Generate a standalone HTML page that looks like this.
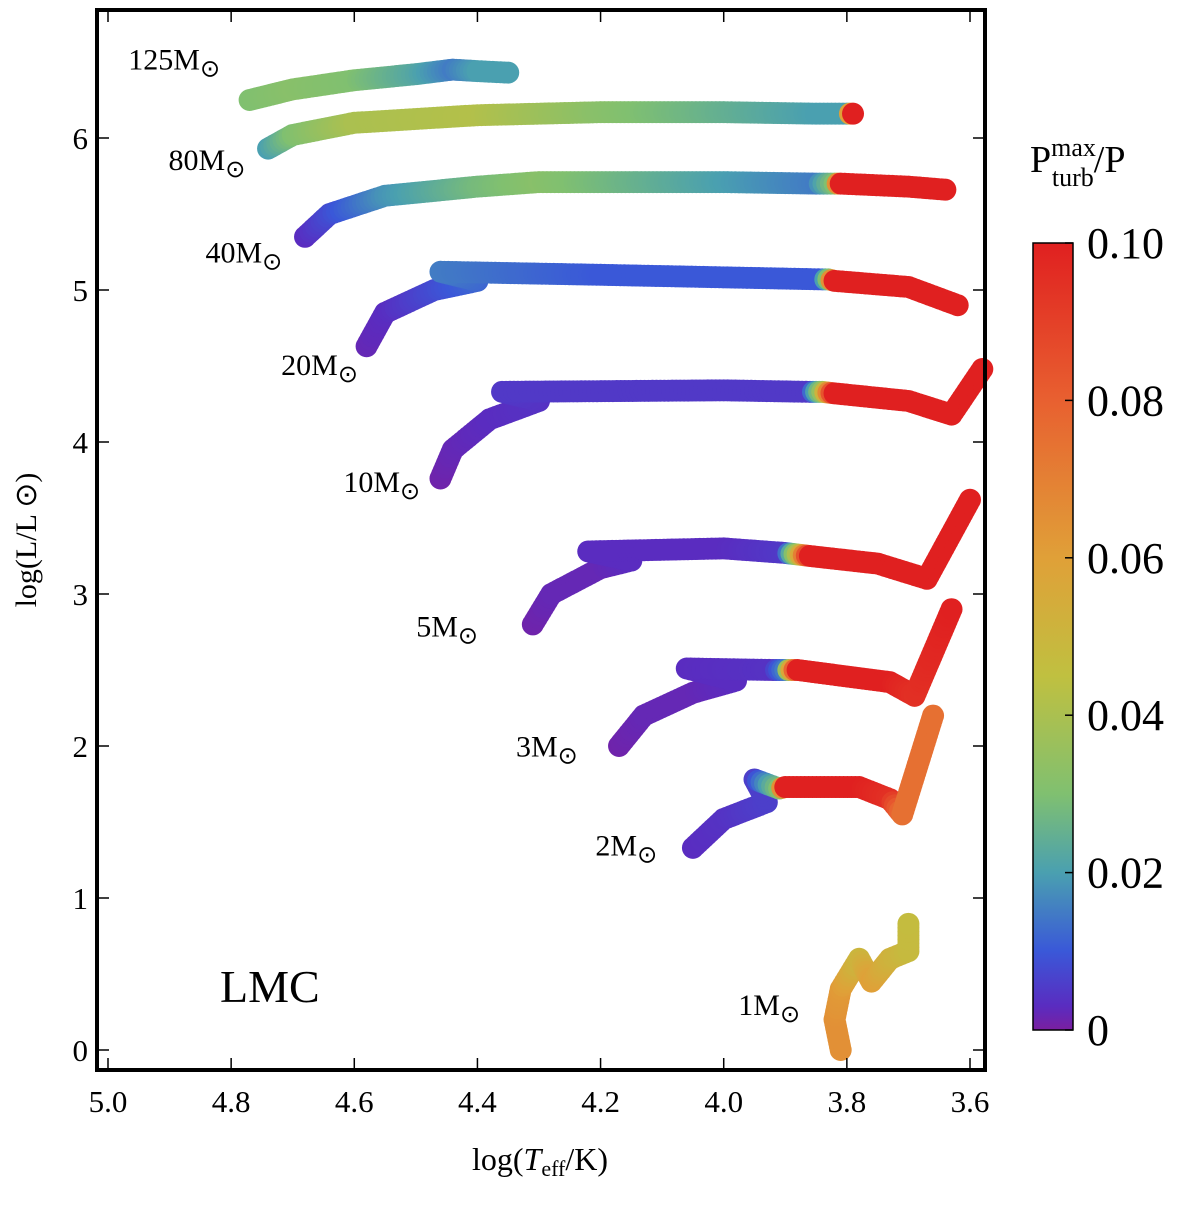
<!DOCTYPE html>
<html><head><meta charset="utf-8"><style>
html,body{margin:0;padding:0;background:#fff;}
svg text{font-family:"Liberation Serif",serif;}
</style></head><body>
<svg id="chart" width="1200" height="1215" xmlns="http://www.w3.org/2000/svg">
<defs>
<linearGradient id="cbgrad" x1="0" y1="1" x2="0" y2="0">
<stop offset="0" stop-color="#7a1fa0"/><stop offset="0.03" stop-color="#5a2cc0"/><stop offset="0.1" stop-color="#3a58d8"/>
<stop offset="0.2" stop-color="#4aa0b0"/><stop offset="0.3" stop-color="#80c070"/><stop offset="0.45" stop-color="#c0c040"/>
<stop offset="0.6" stop-color="#e0a038"/><stop offset="0.8" stop-color="#e86030"/><stop offset="1" stop-color="#e02020"/>
</linearGradient>
</defs>
<g id="marks"></g>
<rect x="97" y="10" width="888" height="1060" fill="none" stroke="#000" stroke-width="4"/>
<g id="axes"></g>
<text transform="translate(36,540) rotate(-90)" text-anchor="middle" font-size="30">log(L/L ⊙)</text>
<text x="540" y="1170" text-anchor="middle" font-size="32">log(<tspan font-style="italic">T</tspan><tspan font-size="22" dy="6">eff</tspan><tspan dy="-6">/K)</tspan></text>
<text x="220" y="1002" font-size="46">LMC</text>
<rect x="1033" y="243" width="40" height="787" fill="url(#cbgrad)" stroke="#000" stroke-width="1.5"/>
<g id="cbticks"></g>
<text x="1030" y="172" font-size="38">P<tspan font-size="26" dy="-16">max</tspan><tspan font-size="26" dx="-44" dy="30">turb</tspan><tspan dy="-14">/P</tspan></text>
</svg>
<script>
const xTicks=[5.0,4.8,4.6,4.4,4.2,4.0,3.8,3.6];
const yTicks=[0,1,2,3,4,5,6];
const cbTicks=[0,0.02,0.04,0.06,0.08,0.10];
const cbLabels=["0","0.02","0.04","0.06","0.08","0.10"];
const massLabels=["125M","80M","40M","20M","10M","5M","3M","2M","1M"];
const labelT=[4.818,4.777,4.717,4.594,4.493,4.399,4.237,4.108,3.876];
const labelL=[6.45,5.79,5.18,4.44,3.67,2.72,1.93,1.28,0.23];
const tT=[
[4.77,4.70,4.60,4.50,4.44,4.40,4.35],
[4.74,4.70,4.60,4.40,4.20,4.00,3.85,3.80,3.79],
[4.68,4.64,4.55,4.40,4.30,4.00,3.85,3.82,3.81,3.70,3.64],
[4.58,4.55,4.47,4.40,4.46,4.20,3.84,3.83,3.82,3.70,3.62],
[4.46,4.44,4.38,4.30,4.36,4.00,3.86,3.84,3.82,3.70,3.63,3.58],
[4.31,4.28,4.20,4.15,4.22,4.00,3.90,3.88,3.86,3.75,3.67,3.60],
[4.17,4.13,4.05,3.98,4.06,3.92,3.90,3.88,3.73,3.69,3.63],
[4.05,4.00,3.93,3.95,3.91,3.90,3.78,3.73,3.71,3.66],
[3.81,3.82,3.81,3.78,3.76,3.73,3.70,3.70]];
const tL=[
[6.25,6.32,6.38,6.42,6.45,6.44,6.43],
[5.93,6.02,6.10,6.15,6.17,6.17,6.16,6.16,6.16],
[5.35,5.50,5.62,5.68,5.71,5.71,5.70,5.70,5.70,5.68,5.66],
[4.63,4.85,5.00,5.06,5.12,5.10,5.07,5.07,5.06,5.02,4.90],
[3.76,3.95,4.15,4.27,4.33,4.34,4.33,4.33,4.32,4.27,4.18,4.48],
[2.80,3.00,3.17,3.22,3.28,3.30,3.27,3.26,3.25,3.20,3.10,3.62],
[2.00,2.20,2.35,2.43,2.51,2.50,2.50,2.50,2.42,2.33,2.90],
[1.33,1.52,1.63,1.78,1.72,1.73,1.73,1.65,1.55,2.20],
[0.00,0.20,0.40,0.60,0.45,0.60,0.65,0.83]];
const tP=[
[0.030,0.032,0.030,0.022,0.015,0.020,0.020],
[0.020,0.030,0.040,0.042,0.032,0.025,0.020,0.020,0.100],
[0.003,0.008,0.018,0.028,0.032,0.020,0.015,0.030,0.100,0.100,0.100],
[0.002,0.003,0.008,0.012,0.015,0.010,0.010,0.030,0.100,0.100,0.100],
[0.001,0.002,0.003,0.004,0.005,0.005,0.005,0.035,0.100,0.100,0.100,0.100],
[0.001,0.002,0.002,0.003,0.003,0.003,0.005,0.040,0.100,0.100,0.100,0.100],
[0.001,0.002,0.002,0.003,0.003,0.004,0.015,0.100,0.100,0.095,0.100],
[0.003,0.004,0.006,0.006,0.030,0.100,0.100,0.095,0.075,0.075],
[0.065,0.065,0.062,0.050,0.060,0.052,0.048,0.047]];

const NS="http://www.w3.org/2000/svg";
const X=t=>108+(5.0-t)*(970-108)/1.4;
const Y=l=>1050-l*152;
const CBY=v=>1030-v/0.1*787;
const stops=[[0,[122,31,160]],[0.003,[90,44,192]],[0.01,[58,88,216]],[0.02,[74,160,176]],[0.03,[128,192,112]],[0.045,[192,192,64]],[0.06,[224,160,56]],[0.08,[232,96,48]],[0.1,[224,32,32]]];
function col(v){v=Math.max(0,Math.min(0.1,v));for(let i=1;i<stops.length;i++){if(v<=stops[i][0]){const a=stops[i-1],b=stops[i],f=(v-a[0])/(b[0]-a[0]);const c=a[1].map((x,k)=>Math.round(x+(b[1][k]-x)*f));return `rgb(${c})`;}}return 'rgb(224,32,32)';}
const marks=document.getElementById('marks');
tT.forEach((T,ti)=>{
 const g=document.createElementNS(NS,'g');
 
 
 for(let i=0;i<T.length-1;i++){
  const x0=X(T[i]),y0=Y(tL[ti][i]),x1=X(T[i+1]),y1=Y(tL[ti][i+1]);
  const n=Math.max(1,Math.ceil(Math.hypot(x1-x0,y1-y0)/4));
  for(let k=0;k<n;k++){const f=k/n;const c=document.createElementNS(NS,'circle');
   c.setAttribute('cx',x0+(x1-x0)*f);c.setAttribute('cy',y0+(y1-y0)*f);c.setAttribute('r',11);
   c.setAttribute('fill',col(tP[ti][i]+(tP[ti][i+1]-tP[ti][i])*f));g.appendChild(c);}
 }
 const last=T.length-1;const c=document.createElementNS(NS,'circle');
 c.setAttribute('cx',X(T[last]));c.setAttribute('cy',Y(tL[ti][last]));c.setAttribute('r',11);c.setAttribute('fill',col(tP[ti][last]));g.appendChild(c);
 marks.appendChild(g);
 const tx=document.createElementNS(NS,'text');
 
 
 tx.setAttribute('x',X(labelT[ti]));tx.setAttribute('y',Y(labelL[ti]));tx.setAttribute('font-size','30');tx.setAttribute('text-anchor','end');
 tx.innerHTML=massLabels[ti]+'<tspan font-size="24" dy="7">⊙</tspan>';marks.appendChild(tx);
});
const axes=document.getElementById('axes');
function line(x1,y1,x2,y2,p){const l=document.createElementNS(NS,'line');l.setAttribute('x1',x1);l.setAttribute('y1',y1);l.setAttribute('x2',x2);l.setAttribute('y2',y2);l.setAttribute('stroke','#000');l.setAttribute('stroke-width','1.5');p.appendChild(l);}
xTicks.forEach(t=>{const x=X(t);line(x,1070,x,1058,axes);line(x,10,x,22,axes);
 const tx=document.createElementNS(NS,'text');
 tx.setAttribute('x',x);tx.setAttribute('y',1112);tx.setAttribute('text-anchor','middle');tx.setAttribute('font-size','31');tx.textContent=t.toFixed(1);axes.appendChild(tx);});
yTicks.forEach(v=>{const y=Y(v);line(97,y,109,y,axes);line(985,y,973,y,axes);
 const tx=document.createElementNS(NS,'text');
 tx.setAttribute('x',88);tx.setAttribute('y',y+11);tx.setAttribute('text-anchor','end');tx.setAttribute('font-size','31');tx.textContent=v;axes.appendChild(tx);});
const cbt=document.getElementById('cbticks');
cbTicks.forEach((v,i)=>{const y=CBY(v);line(1065,y,1073,y,cbt);
 const tx=document.createElementNS(NS,'text');
 tx.setAttribute('x',1087);tx.setAttribute('y',y+15);tx.setAttribute('font-size','44');tx.textContent=cbLabels[i];cbt.appendChild(tx);});
</script>
</body></html>
